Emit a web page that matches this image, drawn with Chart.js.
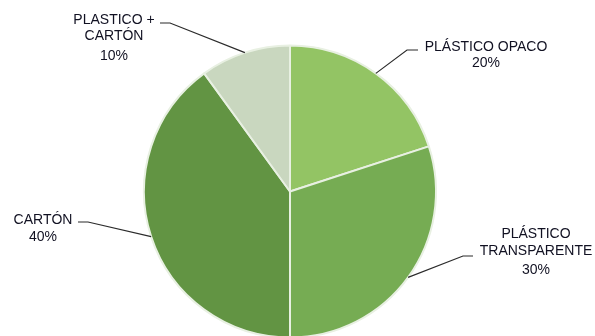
<!DOCTYPE html>
<html>
<head>
<meta charset="utf-8">
<script src="https://cdn.jsdelivr.net/npm/chart.js@4"></script>
<style>
    html, body { margin: 0; padding: 0; background: #fff; overflow: hidden; }
    #wrap { width: 595px; height: 336px; overflow: hidden; }
</style>
</head>
<body>
<div id="wrap"><canvas id="chart1" width="595" height="340"></canvas></div>
<script>
// data
const categories = [['PLÁSTICO OPACO'], ['PLÁSTICO', 'TRANSPARENTE'], ['CARTÓN'], ['PLASTICO +', 'CARTÓN']];
const shares = [20, 30, 40, 10];
const colors = ['#93c464', '#76ac53', '#629443', '#c9d7bf'];

// where each callout sits: elbow of leader, end of leader, text centre and line baselines
const callouts = [
    {elbow: [407, 50], end: [418, 50], tx: 486, ty: [47, 63]},
    {elbow: [463, 256], end: [473, 256], tx: 536, ty: [234, 251, 270]},
    {elbow: [88, 222], end: [78, 222], tx: 43, ty: [220, 237]},
    {elbow: [170, 23], end: [160, 23], tx: 114, ty: [20, 36, 56]}
];

const calloutPlugin = {
    id: 'callouts',
    afterDatasetsDraw(chart) {
        const ctx = chart.ctx;
        const arcs = chart.getDatasetMeta(0).data;
        ctx.save();
        arcs.forEach(function(arc, i) {
            const c = callouts[i];
            const mid = (arc.startAngle + arc.endAngle) / 2;
            const x0 = arc.x + Math.cos(mid) * arc.outerRadius;
            const y0 = arc.y + Math.sin(mid) * arc.outerRadius;
            ctx.strokeStyle = '#2b2b2b';
            ctx.lineWidth = 1.2;
            ctx.beginPath();
            ctx.moveTo(x0, y0);
            ctx.lineTo(c.elbow[0], c.elbow[1]);
            ctx.lineTo(c.end[0], c.end[1]);
            ctx.stroke();

            const lines = categories[i].concat([shares[i] + '%']);
            ctx.fillStyle = '#111122';
            ctx.font = '14px "Liberation Sans", Arial, sans-serif';
            ctx.textAlign = 'center';
            ctx.textBaseline = 'middle';
            lines.forEach(function(t, k) {
                ctx.fillText(t, c.tx, c.ty[k]);
            });
        });
        ctx.restore();
    }
};

new Chart(document.getElementById('chart1'), {
    type: 'pie',
    data: {
        labels: categories.map(function(l) { return l.join(' '); }),
        datasets: [{
            data: shares,
            backgroundColor: colors,
            borderColor: '#e8f0e2',
            borderWidth: 2,
            hoverOffset: 0
        }]
    },
    options: {
        responsive: false,
        devicePixelRatio: 1,
        animation: false,
        layout: {padding: {top: 44.5, bottom: 1.5, left: 0, right: 15}},
        plugins: {
            legend: {display: false},
            tooltip: {enabled: false}
        }
    },
    plugins: [calloutPlugin]
});
</script>
</body>
</html>
